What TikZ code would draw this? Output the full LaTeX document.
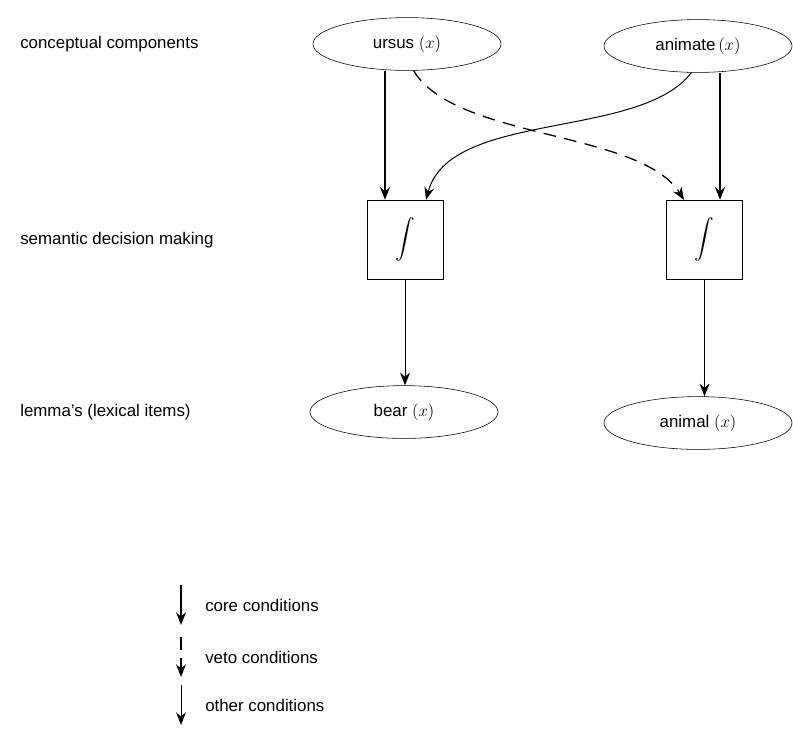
\documentclass[tikz,border=0pt]{standalone}
\usepackage{fontspec}
\setmainfont{Liberation Sans}
\usetikzlibrary{shapes.geometric,arrows.meta}
\newcommand{\bigint}{\scalebox{1.4}{$\displaystyle\int$}}
\tikzset{
  concept/.style={draw,ellipse,minimum width=4.7cm,minimum height=1.32cm,inner sep=0pt},
  decide/.style={draw,minimum width=1.9cm,minimum height=1.97cm,inner sep=0pt,
    font=\fontsize{15}{18}\selectfont},
  lbl/.style={anchor=west,inner sep=0pt},
  core/.style={-{Stealth[length=9pt,width=7pt]},line width=1.6pt},
  veto/.style={-{Stealth[length=9pt,width=7pt]},line width=0.9pt,dash pattern=on 9pt off 6pt},
  other/.style={-{Stealth[length=9pt,width=7pt]},line width=0.7pt}
}
\begin{document}
\begin{tikzpicture}[x=0.025cm,y=-0.025cm,font=\fontsize{12}{14}\selectfont]
			\useasboundingbox (0,0) rectangle (793,733);
			% levels
			\node[lbl] (lconc) at (20,44) {conceptual components};
			\node[lbl] (lsem) at (20,240) {semantic decision making};
			\node[lbl] (llem) at (20,412) {lemma's (lexical items)};
			% nodes
			\node[concept] (ursus) at (407,44) {ursus $(x)$};
			\node[concept] (animate) at (698,46) {animate$\,(x)$};
			\node[decide] (d1) at (405,239.5) {\bigint};
			\node[decide] (d2) at (704.5,239.5) {\bigint};
			\node[concept] (bear) at (404,412) {bear $(x)$};
			\node[concept] (animal) at (698,423) {animal $(x)$};
			% connections
			\draw[core] (ursus.south -| 385,0)--(d1.north -| 385,0);
			\draw[core] (animate.south -| 720,0)--(d2.north -| 720,0);
			\draw[veto] (ursus.-76) .. controls (455,140) and (640,130) .. (d2.north -| 684,0);
			\draw[other] (animate.-104) .. controls (640,140) and (450,110) .. (d1.north -| 426,0);
			\draw[other] (d1.south)--(d1.south |- bear.north);
			\draw[other] (d2.south)--(d2.south |- animal.north);
			% legend
			\foreach \y/\s/\t in {585/core/core conditions,637/veto/veto conditions,685/other/other conditions}{
			\coordinate (a\s) at (181,\y);
			\coordinate (b\s) at (181,\y+40);
			\draw[\s] (a\s)--(b\s);
			\node[lbl] (t\s) at (205,\y+20) {\t};}
		\end{tikzpicture}
\end{document}
